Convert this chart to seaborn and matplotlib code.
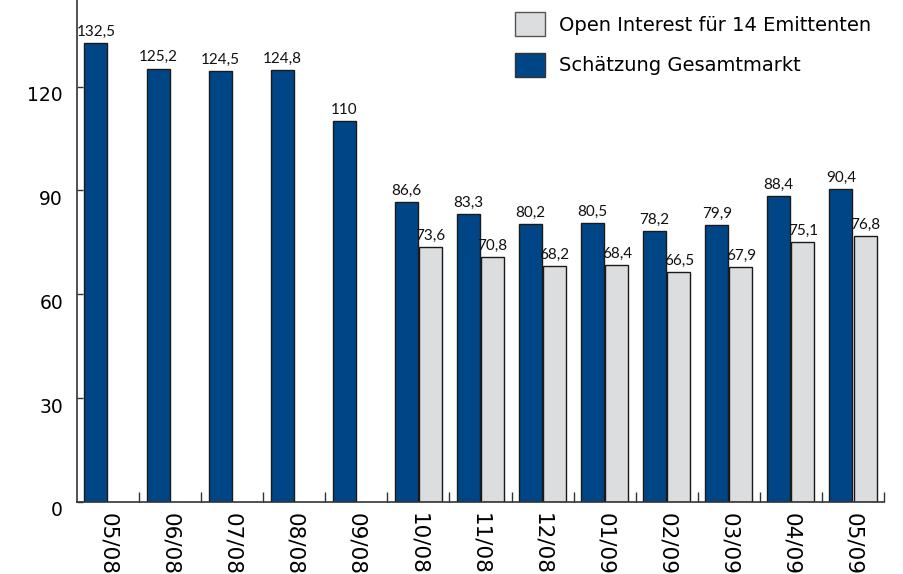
import numpy as np
import pandas as pd
import matplotlib
matplotlib.use("Agg")
import matplotlib.pyplot as plt
import matplotlib.transforms as mtransforms
from matplotlib.patches import Patch
import seaborn as sns

months = ["05/08", "06/08", "07/08", "08/08", "09/08", "10/08", "11/08",
          "12/08", "01/09", "02/09", "03/09", "04/09", "05/09"]
gesamt = [132.5, 125.2, 124.5, 124.8, 110, 86.6, 83.3, 80.2, 80.5, 78.2, 79.9, 88.4, 90.4]
open_interest = [np.nan, np.nan, np.nan, np.nan, np.nan, 73.6, 70.8, 68.2, 68.4, 66.5, 67.9, 75.1, 76.8]
yticks = [0, 30, 60, 90, 120]

s_gesamt = "Schätzung Gesamtmarkt"
s_open = "Open Interest für 14 Emittenten"
col_blue = "#004687"
col_gray = "#DCDDDF"

df = pd.concat([
    pd.DataFrame({"month": months, "value": gesamt, "series": s_gesamt}),
    pd.DataFrame({"month": months, "value": open_interest, "series": s_open}),
]).dropna()

sns.set_style("white")
plt.rcParams["font.family"] = ["DejaVu Sans"]
plt.rcParams["text.color"] = "black"
plt.rcParams["xtick.color"] = "black"
plt.rcParams["ytick.color"] = "black"

fig = plt.figure(figsize=(9.04, 5.74), dpi=100)
ax = fig.add_axes([77 / 904, 72 / 574, 807 / 904, 502 / 574])

sns.barplot(data=df, x="month", y="value", hue="series", order=months,
            hue_order=[s_gesamt, s_open], palette=[col_blue, col_gray],
            saturation=1, width=0.78, gap=0.05, edgecolor="#1a1a1a",
            linewidth=1.0, legend=False, ax=ax)

def fmt(v):
    if float(v).is_integer():
        return str(int(v))
    return f"{v:.1f}".replace(".", ",")

lab_g = [fmt(v) for v in gesamt]
lab_o = [fmt(v) for v in open_interest if not np.isnan(v)]
for cont, labs in zip(ax.containers, [lab_g, lab_o]):
    ax.bar_label(cont, labels=labs, padding=3, fontsize=11,
                 fontfamily=["Lato", "DejaVu Sans"], color="#111111")

ax.set_xlim(-0.5, len(months) - 0.5)
ax.set_ylim(0, 145)
ax.set_yticks(yticks)
ax.set_yticklabels([str(t) for t in yticks])
ax.set_xlabel("")
ax.set_ylabel("")

for s in ["top", "right"]:
    ax.spines[s].set_visible(False)
for s in ["left", "bottom"]:
    ax.spines[s].set_color("#333333")
    ax.spines[s].set_linewidth(1.2)

ax.tick_params(axis="y", left=True, direction="in", length=4.5, width=1,
               color="#333333", labelsize=13.5, pad=10, labelcolor="black")
ax.tick_params(axis="x", which="major", bottom=True, length=0, labelsize=15.5,
               pad=8, labelrotation=270, labelcolor="black")
ax.set_xticks(np.arange(0.5, len(months), 1.0), minor=True)
ax.tick_params(axis="x", which="minor", bottom=True, direction="in", length=7,
               width=1, color="#333333")
for lab in ax.get_xticklabels():
    lab.set_va("top")
    lab.set_ha("center")

off = mtransforms.ScaledTranslation(0, -5 / 72, fig.dpi_scale_trans)
for lab in ax.get_yticklabels():
    lab.set_transform(lab.get_transform() + off)

handles = [Patch(facecolor=col_gray, edgecolor="#555555", linewidth=1),
           Patch(facecolor=col_blue, edgecolor="#333333", linewidth=1)]
leg = ax.legend(handles, [s_open, s_gesamt], loc="upper left", frameon=False,
                fontsize=14, handlelength=1.55, handleheight=1.55,
                labelspacing=0.85, handletextpad=0.72, borderpad=0,
                borderaxespad=0, bbox_to_anchor=(515 / 904, 1 - 12 / 574),
                bbox_transform=fig.transFigure)
for t in leg.get_texts():
    t.set_color("black")

fig.savefig("out.png", dpi=100)
